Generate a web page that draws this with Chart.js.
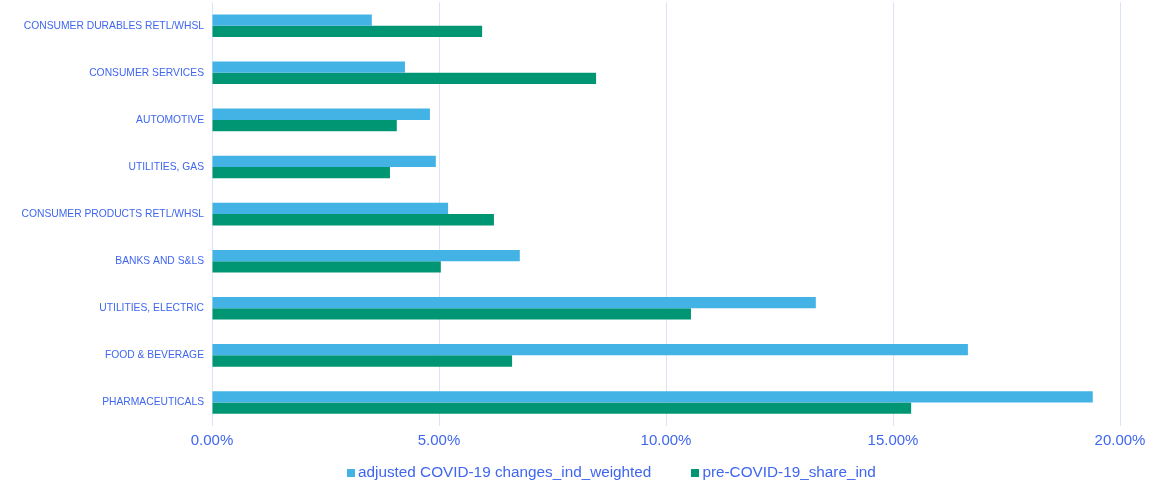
<!DOCTYPE html>
<html>
<head>
<meta charset="utf-8">
<script src="https://cdn.jsdelivr.net/npm/chart.js@4/dist/chart.umd.min.js"></script>
<style>
    html, body { margin: 0; padding: 0; background: #ffffff; }
    #wrap { width: 1170px; height: 483px; position: relative; overflow: hidden; }
    /* the chart reserves ~12px above the plot; pull it up so bars start near the top */
    #chartBox { position: absolute; left: 0; top: -12px; width: 1170px; height: 495px; }
    #legend {
        position: absolute; left: 347px; top: 463px;
        display: flex; align-items: center;
        font-family: "Liberation Sans", Arial, sans-serif; font-size: 15.3px; color: #3f66ef;
        white-space: nowrap;
    }
    .legend-item { display: flex; align-items: center; margin-right: 40px; }
    .legend-box { width: 8px; height: 8px; margin-right: 3px; margin-top: 2px; }
</style>
</head>
<body>
<div id="wrap">
    <div id="chartBox"><canvas id="industryChart"></canvas></div>
    <div id="legend"></div>
</div>
<script>
// Industry shares, in percent
const industries = [
    'CONSUMER DURABLES RETL/WHSL',
    'CONSUMER SERVICES',
    'AUTOMOTIVE',
    'UTILITIES, GAS',
    'CONSUMER PRODUCTS RETL/WHSL',
    'BANKS AND S&LS',
    'UTILITIES, ELECTRIC',
    'FOOD & BEVERAGE',
    'PHARMACEUTICALS'
];
const adjustedCovid = [3.52, 4.25, 4.80, 4.93, 5.20, 6.78, 13.30, 16.65, 19.40];
const preCovidShare = [5.95, 8.46, 4.07, 3.92, 6.21, 5.04, 10.55, 6.61, 15.40];
const xTicks = [0, 5, 10, 15, 20];

const colors = {
    adjusted: '#43b3e5',
    preCovid: '#009673',
    text: '#3f66ef',
    grid: '#dde3f6'
};

Chart.defaults.font.family = '"Liberation Sans", Arial, sans-serif';
Chart.defaults.color = colors.text;

const ctx = document.getElementById('industryChart').getContext('2d');

const chart = new Chart(ctx, {
    type: 'bar',
    data: {
        labels: industries,
        datasets: [{
            label: 'adjusted COVID-19 changes_ind_weighted',
            data: adjustedCovid,
            backgroundColor: colors.adjusted,
            borderWidth: 0,
            barPercentage: 1,
            categoryPercentage: 0.48
        }, {
            label: 'pre-COVID-19_share_ind',
            data: preCovidShare,
            backgroundColor: colors.preCovid,
            borderWidth: 0,
            barPercentage: 1,
            categoryPercentage: 0.48
        }]
    },
    options: {
        indexAxis: 'y',
        responsive: true,
        maintainAspectRatio: false,
        animation: false,
        layout: {
            padding: { top: 0, right: 50, bottom: 27, left: 0 }
        },
        plugins: {
            legend: { display: false },
            tooltip: { enabled: false }
        },
        scales: {
            x: {
                min: 0,
                max: 20,
                afterBuildTicks: (scale) => {
                    scale.ticks = xTicks.map(v => ({ value: v }));
                },
                grid: {
                    color: colors.grid,
                    lineWidth: 1,
                    drawTicks: false
                },
                border: { display: false },
                ticks: {
                    padding: 6,
                    color: colors.text,
                    font: { size: 15 },
                    maxRotation: 0,
                    callback: (value) => value.toFixed(2) + '%'
                }
            },
            y: {
                afterFit: (scale) => { scale.width = 212; },
                grid: { display: false, drawTicks: false },
                border: { display: false },
                ticks: {
                    padding: 8,
                    color: colors.text,
                    font: { size: 10.3 },
                    autoSkip: false
                }
            }
        }
    }
});

// Legend built from the chart's own datasets
const legendEl = document.getElementById('legend');
chart.data.datasets.forEach(ds => {
    const item = document.createElement('div');
    item.className = 'legend-item';
    const box = document.createElement('span');
    box.className = 'legend-box';
    box.style.background = ds.backgroundColor;
    const text = document.createElement('span');
    text.textContent = ds.label;
    item.appendChild(box);
    item.appendChild(text);
    legendEl.appendChild(item);
});
</script>
</body>
</html>
